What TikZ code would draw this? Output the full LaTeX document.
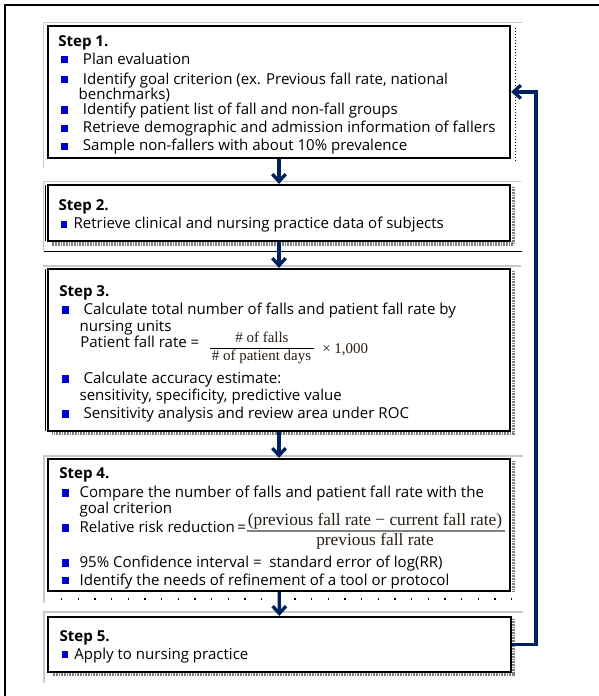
\documentclass[tikz,border=0pt]{standalone}
\usepackage{fontspec}
\setsansfont{Open Sans}
\newfontfamily\fracfont{Liberation Serif}
\usetikzlibrary{arrows.meta}
\definecolor{navy}{RGB}{0,32,96}
\definecolor{bblue}{RGB}{0,0,204}
\definecolor{lgray}{RGB}{200,200,200}
\definecolor{fracc}{RGB}{40,30,20}
\newcommand\bsq[2]{\fill[bblue] (#1,#2-0.7) rectangle ++(7,-7.3);}
\newcommand\bsqs[2]{\fill[bblue] (#1,#2-0.7) rectangle ++(6,-7);}
\begin{document}
\begin{tikzpicture}[x=0.75pt,y=-0.75pt,
  stepbox/.style={draw=black,line width=1.6pt,inner sep=0pt,minimum width=346.5pt},
  txt/.style={anchor=base west,inner sep=0pt,font=\sffamily\fontsize{11.3}{13}\selectfont},
  ttl/.style={txt,font=\sffamily\bfseries\fontsize{11.3}{13}\selectfont},
  frac3/.style={anchor=base,inner sep=0pt,text=fracc,font=\fracfont\fontsize{11.2}{13}\selectfont},
  frac4/.style={anchor=base,inner sep=0pt,text=fracc,font=\fracfont\fontsize{13}{15}\selectfont},
  flow/.style={draw=navy,line width=2.5pt,-{Straight Barb[length=5.5pt,width=10pt]}},
  gline/.style={draw=lgray,line width=0.8pt},
  hatch/.style={draw=gray,line width=2.6pt,dash pattern=on 0.6pt off 0.6pt}]
\useasboundingbox (0,0) rectangle (599,696);
\fill[white] (0,0) rectangle (599,696);
% outer frame
\draw[line width=1.4pt] (5,710) -- (5,5) -- (606,5);

% decorative lines
\draw[gline] (43,22.7) -- (522,22.7);
\draw[gline] (43.3,22.7) -- (43.3,168);
\draw[gline] (43,181.7) -- (521,181.7);
\draw[gline] (43.3,181.7) -- (43.3,252);
\draw[gline] (43,266) -- (521,266);
\draw[gline] (43,456) -- (523,456);
\draw[gline] (44,456) -- (44,603);
\draw[gline] (43,612) -- (523,612);
\draw[gline] (44,612) -- (44,683);
\draw[line width=0.6pt] (45,185) -- (45,241);
\draw[line width=0.6pt] (45,269) -- (45,431);
\draw[line width=0.8pt] (44,251.7) -- (521.7,251.7);
\draw[line width=0.6pt,dash pattern=on 0.75pt off 1.5pt] (515,28) -- (515,163);
\draw[line width=1pt,dash pattern=on 1pt off 11.5pt] (61,599) -- (512,599);
% shadows
\draw[hatch] (513.5,187) -- (513.5,244) -- (52,244);
\draw[hatch] (513.5,271) -- (513.5,433) -- (52,433);
\draw[hatch] (513.5,461) -- (513.5,591);
\draw[hatch] (513.5,619) -- (513.5,674) -- (52,674);

% boxes
\node[stepbox,minimum height=98.8pt] (s1) at (279,91.85) {};
\node[stepbox,minimum height=42pt] (s2) at (279,213) {};
\node[stepbox,minimum height=121.5pt] (s3) at (279,350) {};
\node[stepbox,minimum height=99pt] (s4) at (279,525) {};
\node[stepbox,minimum height=41.25pt,minimum width=347.25pt] (s5) at (279.5,644.5) {};

% Step 1
\node[ttl] (t1) at (58,46.3) {Step 1.};
\bsq{61}{64}\node[txt] (t1a) at (82.7,64) {Plan evaluation};
\bsq{61}{84}\node[txt] (t1b) at (82.7,84) {Identify goal criterion (ex. Previous fall rate, national};
\node[txt] (t1c) at (78.3,99) {benchmarks)};
\bsq{61}{114.3}\node[txt] (t1d) at (82.7,114.3) {Identify patient list of fall and non-fall groups};
\bsq{61}{132.7}\node[txt] (t1e) at (82.7,132.7) {Retrieve demographic and admission information of fallers};
\bsq{61}{150.7}\node[txt] (t1f) at (82.7,150.7) {Sample non-fallers with about 10\% prevalence};

% Step 2
\node[ttl] (t2) at (58.3,210.7) {Step 2.};
\bsqs{61}{228.3}\node[txt] (t2a) at (73.3,228.3) {Retrieve clinical and nursing practice data of subjects};

% Step 3
\node[ttl] (t3) at (59,296.7) {Step 3.};
\bsq{62}{314.3}\node[txt] (t3a) at (83.3,314.3) {Calculate total number of falls and patient fall rate by};
\node[txt] (t3b) at (79.3,331.7) {nursing units};
\node[txt] (t3c) at (80,347.3) {Patient fall rate =};
\node[frac3] (f3n) at (262,342) {\# of falls};
\draw[line width=0.8pt] (210,348.3) -- (314,348.3);
\node[frac3] (f3d) at (261.5,360) {\# of patient days};
\node[frac3,anchor=base west] (f3x) at (322,353) {× 1,000};
\bsq{62}{383.3}\node[txt] (t3d) at (83.3,383.3) {Calculate accuracy estimate:};
\node[txt] (t3e) at (79.3,400.7) {sensitivity, specificity, predictive value};
\bsq{62}{418.3}\node[txt] (t3f) at (83.3,418.3) {Sensitivity analysis and review area under ROC};

% Step 4
\node[ttl] (t4) at (59,478.3) {Step 4.};
\bsq{62}{497.3}\node[txt] (t4a) at (79.3,497.3) {Compare the number of falls and patient fall rate with the};
\node[txt] (t4b) at (79.3,513.3) {goal criterion};
\bsq{62}{532.3}\node[txt] (t4c) at (79.3,532.3) {Relative risk reduction\,=};
\node[frac4] (f4n) at (375,525) {(previous fall rate − current fall rate)};
\draw[line width=1.2pt,draw=gray] (247,531) -- (505,531);
\node[frac4] (f4d) at (375,545) {previous fall rate};
\bsq{62}{567.3}\node[txt] (t4d) at (79.3,567.3) {95\% Confidence interval =\ \ standard error of log(RR)};
\bsq{62}{585}\node[txt] (t4e) at (79.3,585) {Identify the needs of refinement of a tool or protocol};

% Step 5
\node[ttl] (t5) at (59.3,641.7) {Step 5.};
\bsqs{62}{659}\node[txt] (t5a) at (74,659) {Apply to nursing practice};

% connectors
\draw[flow] (s1) -- (s2);
\draw[flow] (s2) -- (s3);
\draw[flow] (s3) -- (s4);
\draw[flow] (s4) -- (s5);
\coordinate (fbB) at (536,644.5);
\coordinate (fbT) at (536,91.85);
\draw[flow] (s5.east) -- (fbB) -- (fbT) -- (s1.east);
\end{tikzpicture}
\end{document}
